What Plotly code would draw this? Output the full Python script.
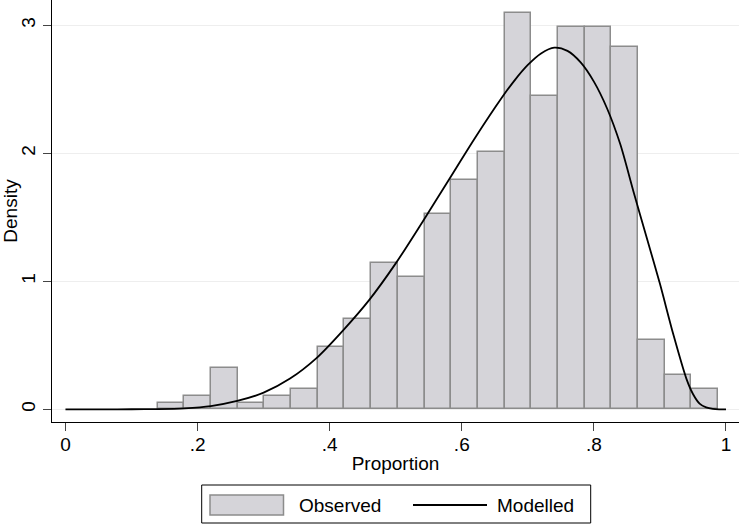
import plotly.graph_objects as go

# ---- data ----
bin_start = 0.1396
bin_width = 0.0404
observed_density = [0.052, 0.104, 0.323, 0.052, 0.104, 0.159, 0.489, 0.705,
                    1.143, 1.034, 1.524, 1.794, 2.013, 3.100, 2.448, 2.990,
                    2.990, 2.830, 0.541, 0.268, 0.161]

model_x = [0.00, 0.06, 0.10, 0.14, 0.18, 0.22, 0.26, 0.30, 0.34, 0.38, 0.42,
           0.46, 0.50, 0.54, 0.58, 0.62, 0.66, 0.68, 0.70, 0.72, 0.74, 0.76,
           0.78, 0.80, 0.82, 0.84, 0.86, 0.88, 0.90, 0.92, 0.94, 0.95, 0.96,
           0.97, 0.98, 0.99, 1.00]
model_y = [0.0, 0.0, 0.0005, 0.002, 0.008, 0.025, 0.065, 0.13, 0.24, 0.40, 0.615,
           0.855, 1.14, 1.46, 1.79, 2.12, 2.43, 2.57, 2.69, 2.78, 2.825, 2.80,
           2.71, 2.56, 2.35, 2.07, 1.70, 1.34, 0.98, 0.59, 0.24, 0.12, 0.045,
           0.015, 0.003, 0.0, 0.0]

x_tickvals = [0, 0.2, 0.4, 0.6, 0.8, 1.0]
x_ticktext = ["0", ".2", ".4", ".6", ".8", "1"]
y_tickvals = [0, 1, 2, 3]
y_ticktext = ["0", "1", "2", "3"]

bin_centers = [bin_start + bin_width * (i + 0.5) for i in range(len(observed_density))]

FONT = "Liberation Sans, Arial, Helvetica, sans-serif"
BAR_FILL = "#d5d4d9"
BAR_LINE = "#8c8c8c"

fig = go.Figure()
fig.add_trace(go.Bar(
    x=bin_centers, y=observed_density, width=bin_width,
    marker=dict(color=BAR_FILL, line=dict(color=BAR_LINE, width=1.5)),
    name="Observed", showlegend=False, hoverinfo="x+y"))
fig.add_trace(go.Scatter(
    x=model_x, y=model_y, mode="lines",
    line=dict(color="black", width=1.8, shape="spline", smoothing=0.8),
    name="Modelled", showlegend=False))

W, H = 740, 524
L, R, T, B = 52, 1, 0, 102
pw, ph = W - L - R, H - T - B

def px(x):
    return (x - L) / pw

def py(y):
    return (H - B - y) / ph

fig.update_layout(
    width=W, height=H,
    margin=dict(l=L, r=R, t=T, b=B, pad=0),
    paper_bgcolor="white", plot_bgcolor="white",
    font=dict(family=FONT, size=19, color="black"),
    bargap=0,
    xaxis=dict(range=[-0.0204, 1.0197], tickvals=x_tickvals, ticktext=x_ticktext,
               automargin=False, ticklabelstandoff=-3,
               showgrid=False, zeroline=False, showline=True, linecolor="black",
               linewidth=1.2, ticks="outside", ticklen=8, tickwidth=1.2,
               tickcolor="#444444", tickfont=dict(size=19),
               title=dict(text="Proportion", font=dict(size=19), standoff=2)),
    yaxis=dict(range=[-0.0992, 3.1977], tickvals=y_tickvals, ticktext=y_ticktext,
               automargin=False,
               showgrid=True, gridcolor="#eeeeee", gridwidth=1, zeroline=False,
               showline=True, linecolor="black", linewidth=1.2,
               ticks="outside", ticklen=8, tickwidth=1.2, tickcolor="#444444",
               tickangle=-90, tickfont=dict(size=19),
               title=dict(text="Density", font=dict(size=19), standoff=4)),
)

# custom legend box (matching Stata layout)
shapes = [
    dict(type="rect", xref="paper", yref="paper",
         x0=px(201.7), x1=px(590.7), y0=py(523), y1=py(485),
         line=dict(color="black", width=1), fillcolor="white"),
    dict(type="rect", xref="paper", yref="paper",
         x0=px(210), x1=px(283.5), y0=py(515), y1=py(495),
         line=dict(color=BAR_LINE, width=1.5), fillcolor=BAR_FILL),
    dict(type="line", xref="paper", yref="paper",
         x0=px(413), x1=px(487), y0=py(505), y1=py(505),
         line=dict(color="black", width=1.8)),
]
fig.update_layout(shapes=shapes)
fig.add_annotation(x=px(296.5), y=py(505), xref="paper", yref="paper",
                   text="Observed", showarrow=False, xanchor="left", yanchor="middle",
                   font=dict(size=19, family=FONT))
fig.add_annotation(x=px(495), y=py(505), xref="paper", yref="paper",
                   text="Modelled", showarrow=False, xanchor="left", yanchor="middle",
                   font=dict(size=19, family=FONT))

fig.write_html("out.html", config={"displayModeBar": False},
               post_script="document.body.style.margin='0';document.body.style.padding='0';")
